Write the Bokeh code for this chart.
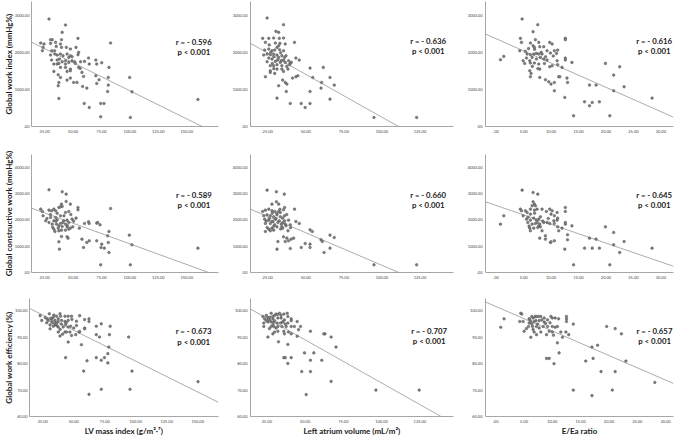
from bokeh.plotting import figure
from bokeh.layouts import column, row
from bokeh.models import FixedTicker, Label, Range1d
from bokeh.embed import file_html
from bokeh.resources import INLINE

# ---------------- data ----------------
# Row 1: Global work index (mmHg%)
gwi_lvmi_x = [28.8, 43.3, 40.4, 54.3, 39.8, 30.2, 31.7, 21.5, 24.4, 30.2, 34.6, 38.9, 83.0,
              23.6, 23.0, 31.1, 33.7, 35.2, 39.8, 44.1, 47.6, 52.6, 54.9,
              30.2, 36.0, 34.0, 38.9, 41.2, 44.7, 47.6, 49.1, 54.3, 63.6, 60.1,
              31.1, 36.0, 38.1, 40.4, 43.3, 46.2, 49.1, 51.4, 56.6, 70.0, 70.8, 75.2,
              33.1, 36.0, 37.5, 43.3, 46.2, 52.0, 64.2, 81.6,
              38.9, 43.3, 47.6, 54.9, 56.3,
              33.1, 36.9, 44.7, 47.6, 57.8,
              38.9, 59.2, 70.0, 72.9, 81.0, 99.8,
              37.5, 44.7, 50.5, 47.6,
              36.9, 53.4, 58.4, 62.1, 81.0, 70.8, 80.4, 101.8,
              37.5, 59.8, 64.2, 74.3, 77.2,
              74.3, 100.4, 159.9]
gwi_lvmi_y = [2898, 2736, 2538, 2376, 2340, 2340, 2340, 2250, 2223, 2241, 2268, 2223, 2250,
              2133, 2043, 2043, 2043, 2160, 2133, 2133, 2088, 2133, 1998,
              1926, 1926, 1953, 1953, 1908, 1953, 1908, 1881, 1935, 1845, 1755,
              1791, 1791, 1818, 1746, 1773, 1863, 1773, 1746, 1746, 1791, 1683, 1719,
              1683, 1683, 1701, 1683, 1728, 1701, 1683, 1593,
              1593, 1593, 1548, 1593, 1566,
              1485, 1395, 1485, 1503, 1458,
              1323, 1350, 1368, 1260, 1323, 1323,
              1188, 1251, 1188, 1305,
              1098, 1188, 1080, 1035, 1116, 1161, 945, 936,
              756, 621, 513, 621, 621,
              261, 243, 729]

gwi_lav_x = [24.6, 35.4, 30.4, 32.2, 21.7, 25.7, 28.9, 32.6, 35.4, 23.5, 30.0, 32.2, 31.1, 42.6, 36.5,
             23.0, 25.7, 27.8, 29.6, 32.8, 35.4, 22.4, 24.6, 26.7, 28.9, 31.1, 34.3, 37.0,
             25.7, 27.8, 32.2, 35.4, 38.7, 43.5, 45.7, 24.6, 30.0, 33.3, 36.5, 39.8,
             26.7, 28.9, 31.1, 34.3, 39.3, 26.7, 31.1, 34.3, 38.3, 52.8, 61.5,
             23.5, 26.7, 29.6, 35.4, 41.3, 43.5, 44.8, 54.6, 65.9, 60.4,
             34.8, 36.5, 37.6, 32.2, 37.2, 68.7,
             31.1, 39.8, 47.0, 49.6, 52.8, 52.8, 60.0, 65.9, 94.8, 122.8,
             27.0, 33.5, 29.0, 36.0, 31.5, 28.0, 34.0, 37.5, 29.0, 40.5, 26.0, 33.0]
gwi_lav_y = [2925, 2745, 2565, 2538, 2376, 2376, 2385, 2376, 2385, 2268, 2250, 2178, 2133, 2268, 2223,
             2061, 2088, 2043, 2061, 2070, 2043, 1926, 1953, 1935, 1953, 1926, 1908, 1908,
             1845, 1818, 1863, 1791, 1773, 1845, 1791, 1746, 1755, 1728, 1728, 1701,
             1638, 1638, 1665, 1638, 1665, 1503, 1548, 1548, 1548, 1575, 1593,
             1341, 1458, 1431, 1485, 1305, 1341, 1368, 1323, 1323, 1188,
             1251, 1188, 1143, 1098, 945, 1116,
             765, 621, 621, 513, 945, 621, 1035, 738, 243, 243,
             2000, 1990, 1880, 1860, 1790, 1700, 1780, 1620, 1560, 1730, 2200, 2240]

gwi_eea_x = [4.73, 7.58, 6.73, 4.42, 4.61, 7.15, 7.76, 12.6, 12.6, 6.24, 6.73, 6.97, 7.94, 8.67, 9.76, 10.2,
             0.79, 1.39, 4.30, 5.33, 5.64, 6.24, 6.85, 7.33, 7.76, 8.36, 4.91, 5.52, 6.12, 6.55, 7.33, 8.06, 8.67,
             9.27, 9.88, 10.6, 11.0, 11.2, 6.24, 6.97, 7.76, 9.27, 9.76, 10.2, 11.1, 11.2, 12.0, 12.6, 12.6, 13.8,
             6.12, 6.36, 6.24, 7.94, 7.94, 8.97, 9.58, 10.0, 10.6, 11.4, 11.6, 12.9, 13.0, 10.6, 12.5, 14.1,
             16.1, 17.0, 17.5, 18.8, 17.0, 18.2, 19.9, 21.4, 22.5, 23.3, 20.7, 21.4, 28.4,
             5.9, 7.0, 8.2, 9.0, 5.2, 6.6, 7.6, 8.8, 10.4]
gwi_eea_y = [2898, 2745, 2556, 2376, 2268, 2340, 2268, 2376, 2340, 2250, 2178, 2133, 2151, 2151, 2268, 2223,
             1800, 1890, 2043, 2025, 1953, 1935, 1953, 1971, 1953, 1953, 1773, 1845, 1773, 1863, 1818, 1863, 1818,
             2043, 1980, 2043, 1971, 2061, 1710, 1710, 1683, 1791, 1611, 1638, 1773, 1665, 1593, 1845, 1791, 1728,
             1503, 1431, 1341, 1548, 1323, 1260, 1206, 1143, 1188, 1341, 1341, 1305, 1188, 963, 783, 288,
             666, 558, 648, 666, 1116, 1116, 1701, 1386, 1611, 1071, 288, 963, 765,
             2100, 2080, 2000, 1880, 1700, 1620, 1560, 1700, 1900]

# Row 2: Global constructive work (mmHg%)
gcw_lvmi_x = [28.8, 40.4, 43.9, 43.9, 39.8, 40.4, 47.6, 21.5, 23.0, 28.8, 31.1, 33.1, 34.6, 37.5, 38.9, 54.3, 54.3, 83.0,
              23.6, 30.2, 34.6, 38.9, 43.3, 46.2, 33.1, 36.0, 41.8, 44.7, 49.1, 52.6, 25.9, 28.8,
              31.7, 35.4, 38.9, 43.3, 46.2, 37.5, 40.4, 44.7, 47.6, 49.7, 33.1, 36.9, 39.8, 43.3, 46.2,
              63.6, 70.8, 71.7, 73.7, 60.1, 64.2, 55.5, 34.0, 37.5, 44.7, 81.6, 80.4,
              57.8, 64.2, 70.8, 75.2, 62.1, 37.5, 39.8, 45.6, 38.0, 59.2, 74.6, 77.5, 81.0,
              99.5, 101.8, 81.6, 74.3, 100.4, 159.9,
              30.0, 36.0, 42.0, 48.0, 27.0, 35.0, 41.0, 50.5, 32.0, 45.0]
gcw_lvmi_y = [3140, 3064, 2975, 2697, 2595, 2507, 2595, 2405, 2317, 2367, 2342, 2405, 2342, 2469, 2494, 2469, 2380, 2431,
              2152, 2089, 2089, 2152, 2279, 2317, 1962, 2000, 1962, 1988, 2026, 2064, 1962, 1899,
              1836, 1836, 1861, 1836, 1899, 1772, 1747, 1734, 1684, 1734, 1646, 1684, 1608, 1608, 1646,
              1924, 1874, 1899, 1810, 1861, 1861, 1684, 1557, 1582, 1355, 1557, 1393,
              1266, 1203, 1203, 1076, 1139, 1165, 1367, 1304, 886, 950, 950, 924, 1139,
              1418, 1051, 760, 291, 291, 924,
              2200, 2250, 2150, 2200, 2050, 1950, 1900, 1950, 1720, 1780]

gcw_lav_x = [24.6, 30.7, 35.9, 30.7, 32.2, 27.8, 36.1, 35.4, 42.6, 21.7, 23.5, 25.7, 27.8, 29.6, 32.2, 33.3,
             22.4, 24.6, 26.7, 28.9, 31.1, 33.3, 34.8, 23.0, 25.7, 27.8, 30.0, 32.6, 36.1,
             23.5, 26.7, 29.6, 31.7, 33.9, 36.5, 38.7, 24.6, 27.8, 31.1, 34.3, 37.0, 39.8,
             25.7, 28.9, 34.8, 38.3, 23.5, 26.7, 43.5, 45.7, 52.8, 54.3,
             35.4, 36.5, 37.6, 38.7, 40.4, 42.0, 31.7, 31.1, 39.8, 47.0, 49.6, 52.8, 52.8,
             60.0, 60.9, 65.9, 68.7, 62.0, 65.9, 94.8, 122.8,
             28.0, 33.0, 37.5, 30.5, 26.0, 35.0, 29.0, 33.5, 40.0, 24.0, 31.0, 36.0, 28.5]
gcw_lav_y = [3127, 3064, 2975, 2684, 2595, 2595, 2469, 2380, 2405, 2317, 2367, 2405, 2342, 2317, 2317, 2279,
             2152, 2190, 2152, 2114, 2190, 2114, 2064, 2026, 1988, 1937, 2026, 1962, 1962,
             1861, 1861, 1810, 1899, 1836, 1836, 1988, 1709, 1684, 1734, 1734, 1772, 1810,
             1646, 1608, 1684, 1583, 1557, 1583, 1937, 1861, 1620, 1557,
             1355, 1177, 1304, 1203, 1266, 1304, 1177, 886, 912, 950, 1101, 1076, 950,
             1241, 1177, 1418, 1329, 760, 924, 291, 291,
             2250, 2400, 2200, 2050, 2050, 1900, 1760, 1650, 1700, 1950, 2250, 2150, 1930]

gcw_eea_x = [4.73, 6.73, 7.58, 6.73, 6.97, 7.15, 4.42, 4.61, 5.33, 6.24, 6.55, 6.97, 7.45, 8.36, 9.76, 10.2, 12.6, 12.6,
             0.79, 1.39, 4.91, 5.52, 6.24, 6.85, 7.33, 7.76, 8.06, 5.64, 6.24,
             9.15, 10.0, 10.6, 11.1, 11.2, 10.5, 9.27, 9.76, 10.6, 5.76, 6.55, 7.15, 7.76, 8.67,
             6.12, 6.24, 6.85, 7.58, 8.06, 8.36, 11.1, 11.2, 12.0, 12.6, 12.6, 13.8,
             8.97, 8.97, 9.88, 10.6, 10.0, 7.94, 7.94, 11.4, 13.0, 13.0, 12.5, 14.1,
             16.1, 17.0, 17.5, 18.2, 18.8, 19.9, 21.4, 21.4, 22.5, 23.3, 20.7, 28.4,
             5.8, 7.0, 8.5, 9.5, 6.0, 7.5]
gcw_eea_y = [3127, 3038, 2975, 2684, 2595, 2532, 2405, 2342, 2342, 2405, 2532, 2367, 2405, 2405, 2405, 2342, 2469, 2317,
             1836, 2152, 2152, 2026, 1988, 2064, 1988, 2026, 2114, 2279, 2216,
             2317, 2216, 2152, 2279, 2064, 1962, 1899, 1861, 1861, 1899, 1836, 1861, 1772, 1899,
             1684, 1583, 1684, 1709, 1734, 1583, 1988, 1734, 1684, 1899, 1836, 1772,
             1393, 1266, 1139, 1203, 1165, 1304, 1836, 1583, 1431, 1241, 886, 291,
             924, 1304, 924, 1266, 924, 1734, 1519, 1051, 760, 1177, 291, 924,
             2100, 2250, 1950, 2050, 1760, 1900]

# Row 3: Global work efficiency (%)
gwe_lvmi_x = [22.9, 24.2, 30.3, 32.2, 33.5, 36.2, 38.9, 37.5, 39.4, 42.9, 45.5, 48.2, 54.8,
              29.5, 32.2, 34.9, 37.5, 40.2, 42.9, 45.5, 52.2, 58.8, 62.3,
              30.9, 33.5, 34.9, 37.5, 41.5, 45.5, 52.2, 58.8, 62.3, 30.9, 28.2,
              37.5, 38.9, 42.9, 44.2, 46.9, 48.2, 54.3, 54.8, 51.6,
              68.2, 72.2, 79.4, 68.2, 70.8, 78.8, 58.8, 45.5, 56.2, 94.3, 78.3, 77.5,
              43.4, 68.2, 72.2, 74.8, 77.5, 60.7, 58.0, 97.0, 150.3, 72.2, 95.4, 62.3,
              27.0, 31.5, 35.5, 40.0, 44.0, 48.5, 33.0, 36.5, 43.5, 50.0, 28.5, 34.0, 39.0, 47.5, 41.0, 36.0]
gwe_lvmi_y = [98.2, 96.4, 98.9, 97.0, 97.6, 98.0, 98.9, 97.0, 98.0, 98.0, 98.0, 98.0, 98.2,
              96.4, 96.0, 96.4, 96.0, 96.4, 96.0, 96.4, 96.1, 96.7, 97.0,
              93.2, 94.2, 94.7, 93.9, 93.9, 93.9, 94.5, 93.5, 96.0, 94.7, 95.5,
              92.0, 90.5, 92.0, 92.0, 92.0, 90.7, 92.0, 92.2, 91.0,
              94.2, 95.1, 94.2, 91.0, 90.1, 91.0, 93.2, 88.2, 87.2, 90.1, 86.3, 83.8,
              82.3, 82.3, 81.3, 82.3, 80.3, 81.1, 77.2, 77.2, 73.2, 70.3, 70.3, 68.4,
              97.5, 97.2, 95.4, 95.0, 95.6, 96.8, 95.5, 94.4, 94.9, 93.5, 96.9, 98.4, 93.0, 94.2, 91.2, 95.0]

gwe_lav_x = [22.4, 23.5, 24.6, 25.7, 27.8, 28.9, 30.0, 31.1, 33.3, 34.3, 36.1, 38.3, 38.7,
             24.6, 26.7, 28.9, 30.0, 32.2, 34.3, 36.5, 40.9, 40.9,
             23.0, 25.7, 27.8, 29.6, 31.7, 33.9, 35.4, 38.7, 44.8,
             23.0, 27.8, 29.6, 32.2, 34.8, 37.6, 40.9, 43.0, 47.0, 45.7,
             26.7, 30.0, 32.2, 36.1, 39.1, 25.7, 28.9, 36.5, 40.9, 44.8, 32.6, 38.7,
             53.5, 62.2, 63.0, 67.0, 70.2, 49.6, 55.7, 36.1, 37.0, 40.9, 38.7, 53.5, 60.9,
             47.8, 53.5, 67.0, 50.7, 96.3, 124.6,
             27.0, 32.0, 35.5, 29.0, 31.0, 26.0, 37.0]
gwe_lav_y = [97.9, 97.0, 98.3, 97.5, 99.1, 97.9, 98.3, 98.8, 99.1, 98.3, 98.8, 99.1, 97.9,
             96.3, 96.6, 97.0, 96.3, 97.3, 97.3, 96.6, 97.0, 96.3,
             95.4, 95.8, 95.8, 95.8, 95.4, 95.4, 95.8, 95.4, 96.0,
             94.1, 94.1, 94.1, 94.1, 94.1, 94.1, 94.1, 94.1, 94.1, 92.9,
             93.3, 92.0, 92.3, 92.3, 92.0, 90.1, 91.3, 91.3, 91.3, 90.4, 88.3, 87.3,
             92.3, 91.3, 91.3, 90.1, 86.3, 84.1, 84.1, 82.3, 82.3, 82.3, 80.1, 81.3, 81.3,
             77.0, 77.0, 73.3, 68.3, 70.0, 70.0,
             97.6, 98.6, 95.9, 94.8, 93.5, 96.9, 95.0]

gwe_eea_x = [0.89, 1.48, 4.43, 4.61, 4.25, 4.84, 5.02, 5.43, 5.79,
             5.91, 6.20, 6.38, 6.62, 6.97, 7.21, 7.56, 7.97, 5.91, 6.38, 6.79, 7.09, 7.68, 8.15, 8.57,
             6.50, 7.21, 7.68, 8.39, 9.16, 6.20, 6.79, 7.21, 7.97,
             8.57, 9.16, 9.75, 10.0, 10.5, 11.1, 8.98, 9.45, 10.0, 10.5, 10.9, 10.0, 10.2,
             11.5, 11.8, 12.4, 12.9, 12.5, 12.5, 12.5, 13.7, 10.9, 11.2, 8.98, 9.45, 10.3,
             13.7, 15.9, 17.0, 17.2, 18.0, 18.6, 19.6, 20.6, 21.1, 21.1, 22.2, 23.0, 17.0, 28.1,
             6.0, 7.4, 8.8, 6.6, 9.6]
gwe_eea_y = [93.8, 97.0, 99.1, 98.8, 96.0, 96.0, 92.3, 93.3, 94.1,
             97.0, 96.0, 97.9, 97.3, 97.9, 97.9, 97.9, 97.9, 95.4, 95.0, 96.0, 96.3, 96.3, 96.6, 97.3,
             94.1, 94.1, 93.5, 94.1, 94.1, 90.0, 92.0, 91.0, 92.0,
             95.8, 96.6, 97.9, 97.3, 97.3, 97.0, 91.0, 92.3, 94.1, 93.8, 94.1, 92.0, 90.8,
             92.0, 90.0, 92.0, 91.0, 97.9, 97.0, 96.0, 95.0, 87.9, 84.1, 82.0, 82.0, 80.0,
             70.0, 81.0, 86.3, 82.0, 87.0, 77.0, 94.1, 70.0, 93.3, 77.0, 91.3, 81.0, 67.9, 72.9,
             96.8, 95.0, 95.2, 93.0, 95.5]

# regression lines (intercept, slope)
fit_gwi = [(2477, -15.14), (2557, -23.06), (2366, -65.5)]
fit_gcw = [(2653, -15.66), (2743, -24.7), (2545, -71.5)]
fit_gwe = [(104.3, -0.2334), (105.4, -0.327), (101.7, -0.930)]

r_gwi = ["r = - 0.596", "r = - 0.636", "r = - 0.616"]
r_gcw = ["r = - 0.589", "r = - 0.660", "r = - 0.645"]
r_gwe = ["r = - 0.673", "r = - 0.707", "r = - 0.657"]
p_text = "p < 0.001"

# ticks and tick labels
lvmi_ticks = [25, 50, 75, 100, 125, 150]
lvmi_labels = ["25.00", "50.00", "75.00", "100.00", "125.00", "150.00"]
lav_ticks = [25, 50, 75, 100, 125]
lav_labels = ["25.00", "50.00", "75.00", "100.00", "125.00"]
eea_ticks = [0, 5, 10, 15, 20, 25, 30]
eea_labels = [".00", "5.00", "10.00", "15.00", "20.00", "25.00", "30.00"]
gwi_ticks = [0, 1000, 2000, 3000]
gwi_labels = [".00", "1000.00", "2000.00", "3000.00"]
gcw_ticks = [0, 1000, 2000, 3000, 4000]
gcw_labels = [".00", "1000.00", "2000.00", "3000.00", "4000.00"]
gwe_ticks = [60, 70, 80, 90, 100]
gwe_labels = ["60.00", "70.00", "80.00", "90.00", "100.00"]

x_titles = ["LV mass index (g/m\u00b2\u00b7\u2077)", "Left atrium volume (mL/m\u00b2)", "E/Ea ratio"]
y_titles = ["Global work index (mmHg%)", "Global constructive work (mmHg%)", "Global work efficiency (%)"]

# axis ranges
x_ranges = [[(13.4, 178.0), (13.7, 147.0), (-1.94, 32.3)],
            [(13.4, 178.0), (13.7, 147.0), (-1.94, 32.3)],
            [(14.3, 166.8), (14.3, 147.0), (-1.8, 31.4)]]
y_ranges = [(0, 3370), (0, 4480), (60, 104.7)]

# annotation anchor positions (data units): x, y of r line, y of p line
ann_pos = [[(156.3, 2290, 2020), (130.4, 2295, 2025), (28.8, 2295, 2025)],
           [(156.4, 2950, 2570), (130.4, 2950, 2570), (28.8, 2950, 2570)],
           [(146.8, 92.2, 88.3), (131.1, 92.25, 88.5), (28.06, 92.25, 88.5)]]

# ---------------- layout ----------------
col_w = [225, 234, 219]
col_left = [29, 25, 26]
col_right = [7, 6, 5]
row_h = [140, 145, 153]
row_top = [1, 14, 13]
row_bottom = [14, 13, 21]

FONT = "Lato"

xs_data = [[gwi_lvmi_x, gwi_lav_x, gwi_eea_x],
           [gcw_lvmi_x, gcw_lav_x, gcw_eea_x],
           [gwe_lvmi_x, gwe_lav_x, gwe_eea_x]]
ys_data = [[gwi_lvmi_y, gwi_lav_y, gwi_eea_y],
           [gcw_lvmi_y, gcw_lav_y, gcw_eea_y],
           [gwe_lvmi_y, gwe_lav_y, gwe_eea_y]]
fits = [fit_gwi, fit_gcw, fit_gwe]
rtexts = [r_gwi, r_gcw, r_gwe]
xticks = [(lvmi_ticks, lvmi_labels), (lav_ticks, lav_labels), (eea_ticks, eea_labels)]
yticks = [(gwi_ticks, gwi_labels), (gcw_ticks, gcw_labels), (gwe_ticks, gwe_labels)]

rows = []
for r in range(3):
    figs = []
    for c in range(3):
        xr = x_ranges[r][c]
        yr = y_ranges[r]
        p = figure(width=col_w[c], height=row_h[r],
                   x_range=Range1d(*xr), y_range=Range1d(*yr),
                   output_backend="svg", toolbar_location=None,
                   min_border_left=col_left[c], min_border_right=col_right[c],
                   min_border_top=row_top[r], min_border_bottom=row_bottom[r])
        p.outline_line_color = None
        p.grid.visible = False
        p.background_fill_color = "white"
        p.border_fill_color = "white"

        for ax, (tk, lb) in ((p.xaxis[0], xticks[c]), (p.yaxis[0], yticks[r])):
            ax.ticker = FixedTicker(ticks=tk)
            ax.major_label_overrides = dict(zip(tk, lb))
            ax.axis_line_color = "#8f8f8f"
            ax.axis_line_width = 0.8
            ax.major_tick_line_color = None
            ax.minor_tick_line_color = None
            ax.major_tick_out = 0
            ax.major_tick_in = 0
            ax.major_label_text_font = FONT
            ax.major_label_text_font_size = "4px"
            ax.major_label_text_color = "#444444"
            ax.major_label_standoff = 3

        if r == 2:
            p.xaxis.axis_label = x_titles[c]
            p.xaxis.axis_label_text_font = FONT
            p.xaxis.axis_label_text_font_style = "bold"
            p.xaxis.axis_label_text_font_size = "8px"
            p.xaxis.axis_label_text_color = "#1a1a1a"
            p.xaxis.axis_label_standoff = 0
        if c == 0:
            p.yaxis.major_label_standoff = 2
            p.yaxis.axis_label = y_titles[r]
            p.yaxis.axis_label_text_font = FONT
            p.yaxis.axis_label_text_font_style = "bold"
            p.yaxis.axis_label_text_font_size = "8px"
            p.yaxis.axis_label_text_color = "#1a1a1a"
            p.yaxis.axis_label_standoff = -2

        a, b = fits[r][c]
        lx = [xr[0], xr[1]]
        ly = [a + b * v for v in lx]
        p.line(lx, ly, line_color="#a3a3a3", line_width=0.9)

        p.scatter(xs_data[r][c], ys_data[r][c], marker="circle", size=2.6,
                  fill_color="#7f7f7f", line_color="#555555", line_width=0.5)

        ax_, ry, py = ann_pos[r][c]
        for txt, yy in ((rtexts[r][c], ry), (p_text, py)):
            p.add_layout(Label(x=ax_, y=yy, text=txt, text_font=FONT,
                               text_font_style="bold", text_font_size="7.8px",
                               text_color="#1a1a1a", text_align="center",
                               text_baseline="middle"))
        figs.append(p)
    rows.append(row(*figs))

layout = column(*rows)

open("out.html", "w").write(file_html(layout, INLINE))
